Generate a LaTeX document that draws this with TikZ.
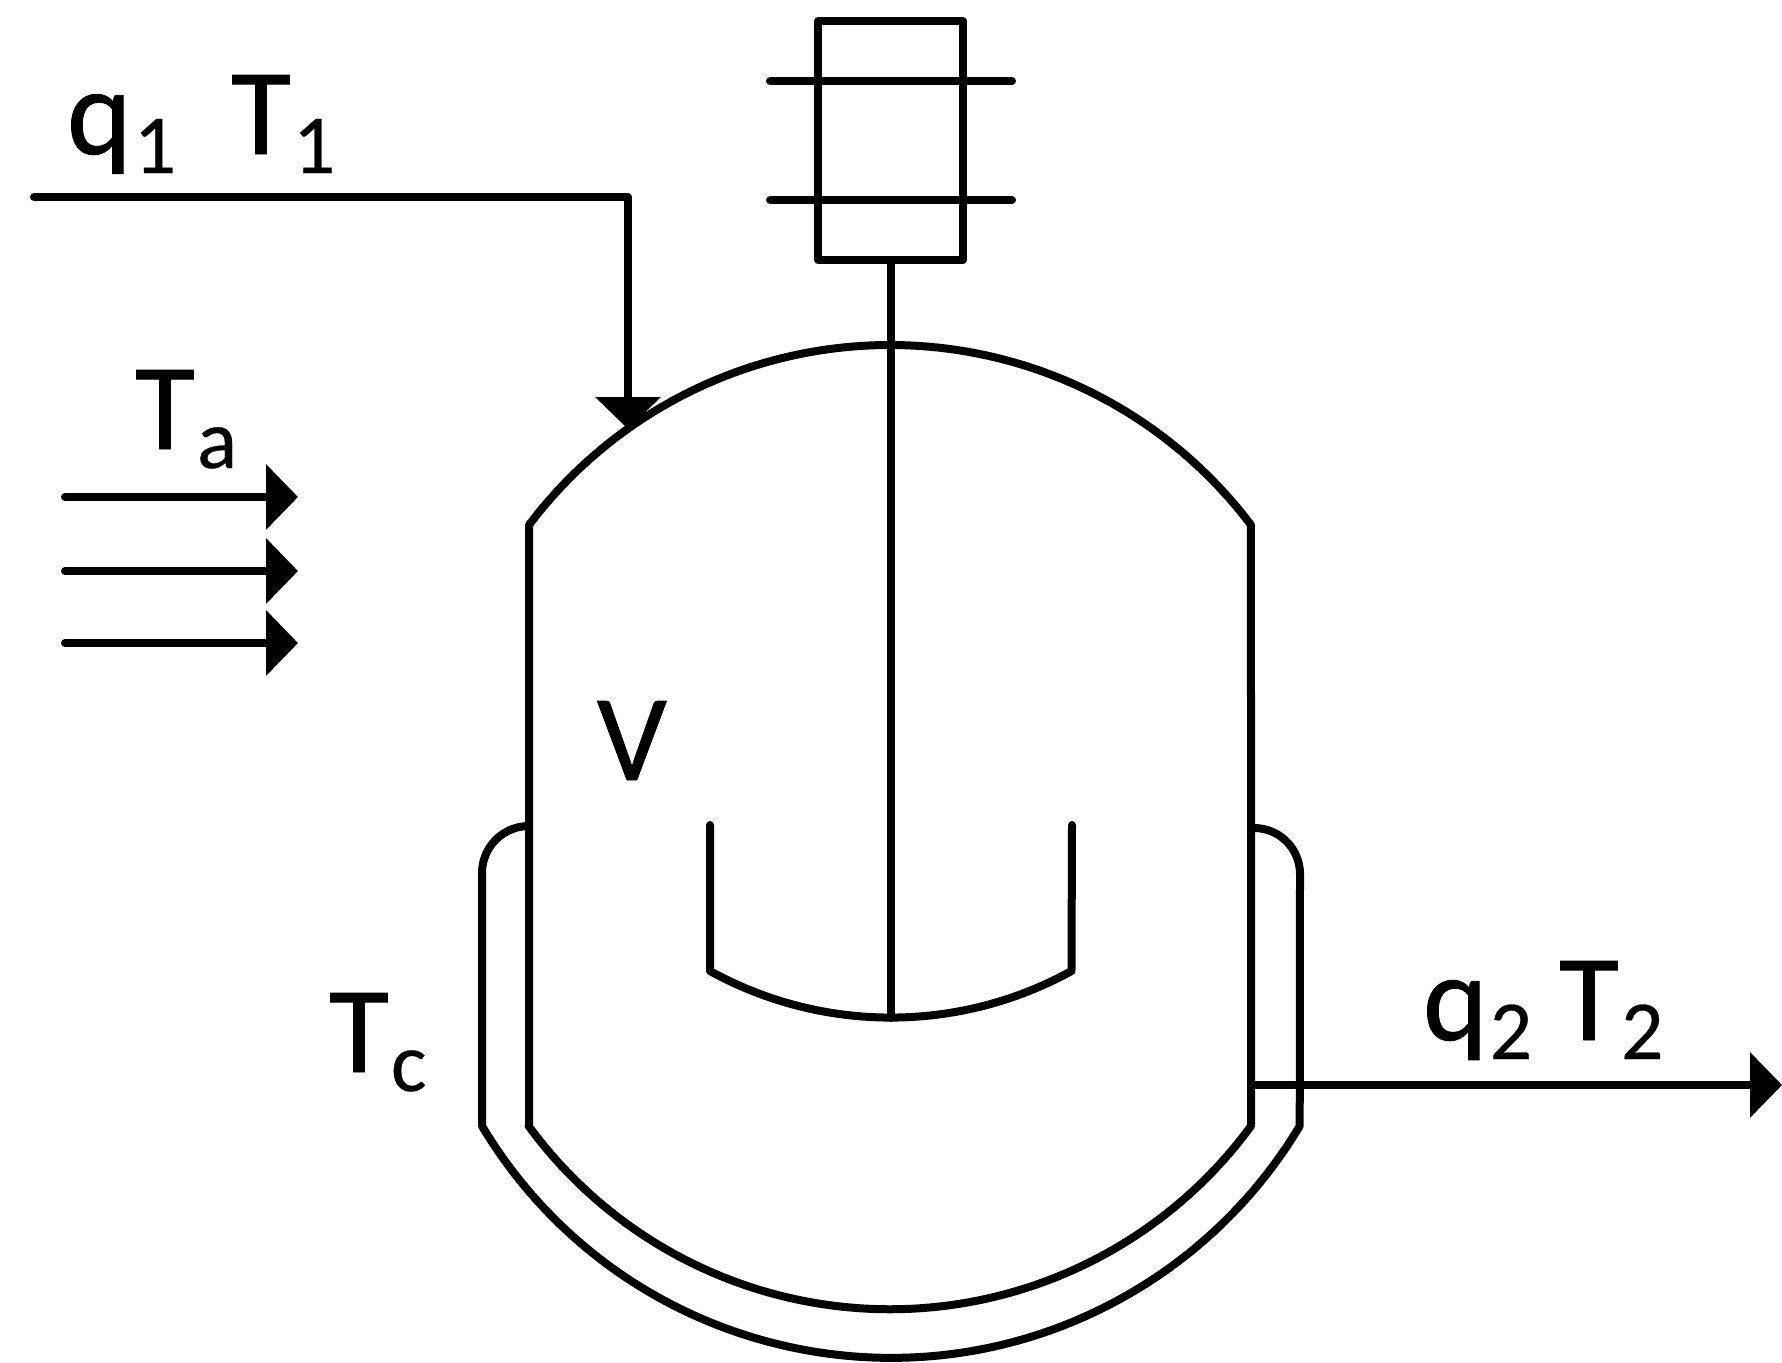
\documentclass[tikz,border=0pt]{standalone}
\usepackage{fontspec}
\setmainfont[FakeBold=0.7]{Carlito}
\newfontfamily\subfont[FakeBold=0.3]{Carlito}
\usetikzlibrary{arrows.meta}
\newcommand{\lowsub}[1]{\kern2pt\raisebox{-19pt}{\subfont\fontsize{84}{84}\selectfont #1}}
\tikzset{
  pipe/.style={line width=8pt,line join=round,line cap=round,black},
  flow/.style={pipe,-{Triangle[length=32pt,width=64pt]}},
  lab/.style={anchor=base west,inner sep=0pt,outer sep=0pt,font=\fontsize{123}{123}\selectfont}
}
\begin{document}
\begin{tikzpicture}[x=1pt,y=-1pt]
\useasboundingbox (0,0) rectangle (1782,1362);
% labels
\node[lab] (qone) at (67,154) {q\lowsub{1}};
\node[lab] (tone) at (231,154) {T\lowsub{1}};
\node[lab] (ta) at (135,449) {T\lowsub{a}};
\node[lab] (tc) at (329,1072) {T\lowsub{c}};
\node[lab] (v) at (597,780) {V};
\node[lab] (qtwo) at (1423,1040) {q\lowsub{2}};
\node[lab] (ttwo) at (1559,1040) {T\lowsub{2}};
% coordinates
\coordinate (inS) at (34,197);
\coordinate (inC) at (628,197);
\coordinate (inE) at (628,429);
\coordinate (a1S) at (65,497);  \coordinate (a1E) at (298,497);
\coordinate (a2S) at (65,571);  \coordinate (a2E) at (298,571);
\coordinate (a3S) at (65,643);  \coordinate (a3E) at (298,643);
\coordinate (outS) at (1251,1085); \coordinate (outE) at (1782,1085);
\coordinate (shT) at (891,262); \coordinate (shB) at (891,1018);
% motor
\draw[pipe] (818,21) rectangle (963,260);
\draw[pipe] (770,81) -- (1012,81);
\draw[pipe] (770,200) -- (1012,200);
\draw[pipe] (shT) -- (shB);
% vessel
\draw[pipe] (529,1126) -- (529,525) arc[start angle=143,end angle=37,radius=452pt]
  -- (1251,1126) arc[start angle=-36.2,end angle=-143.8,radius=447.6pt] -- cycle;
% jacket
\draw[pipe] (529,826) arc[start angle=90,end angle=180,radius=47pt] -- (482,1126)
  arc[start angle=210.9,end angle=329.1,radius=476.5pt] -- (1300,874)
  arc[start angle=0,end angle=90,radius=46pt];
% impeller
\draw[pipe] (710,825) -- (710,971) arc[start angle=241.1,end angle=298.9,radius=374pt] -- (1072,825);
% flows
\draw[flow] (inS) -- (inC) -- (inE);
\draw[flow] (a1S) -- (a1E);
\draw[flow] (a2S) -- (a2E);
\draw[flow] (a3S) -- (a3E);
\draw[flow] (outS) -- (outE);
\end{tikzpicture}
\end{document}
